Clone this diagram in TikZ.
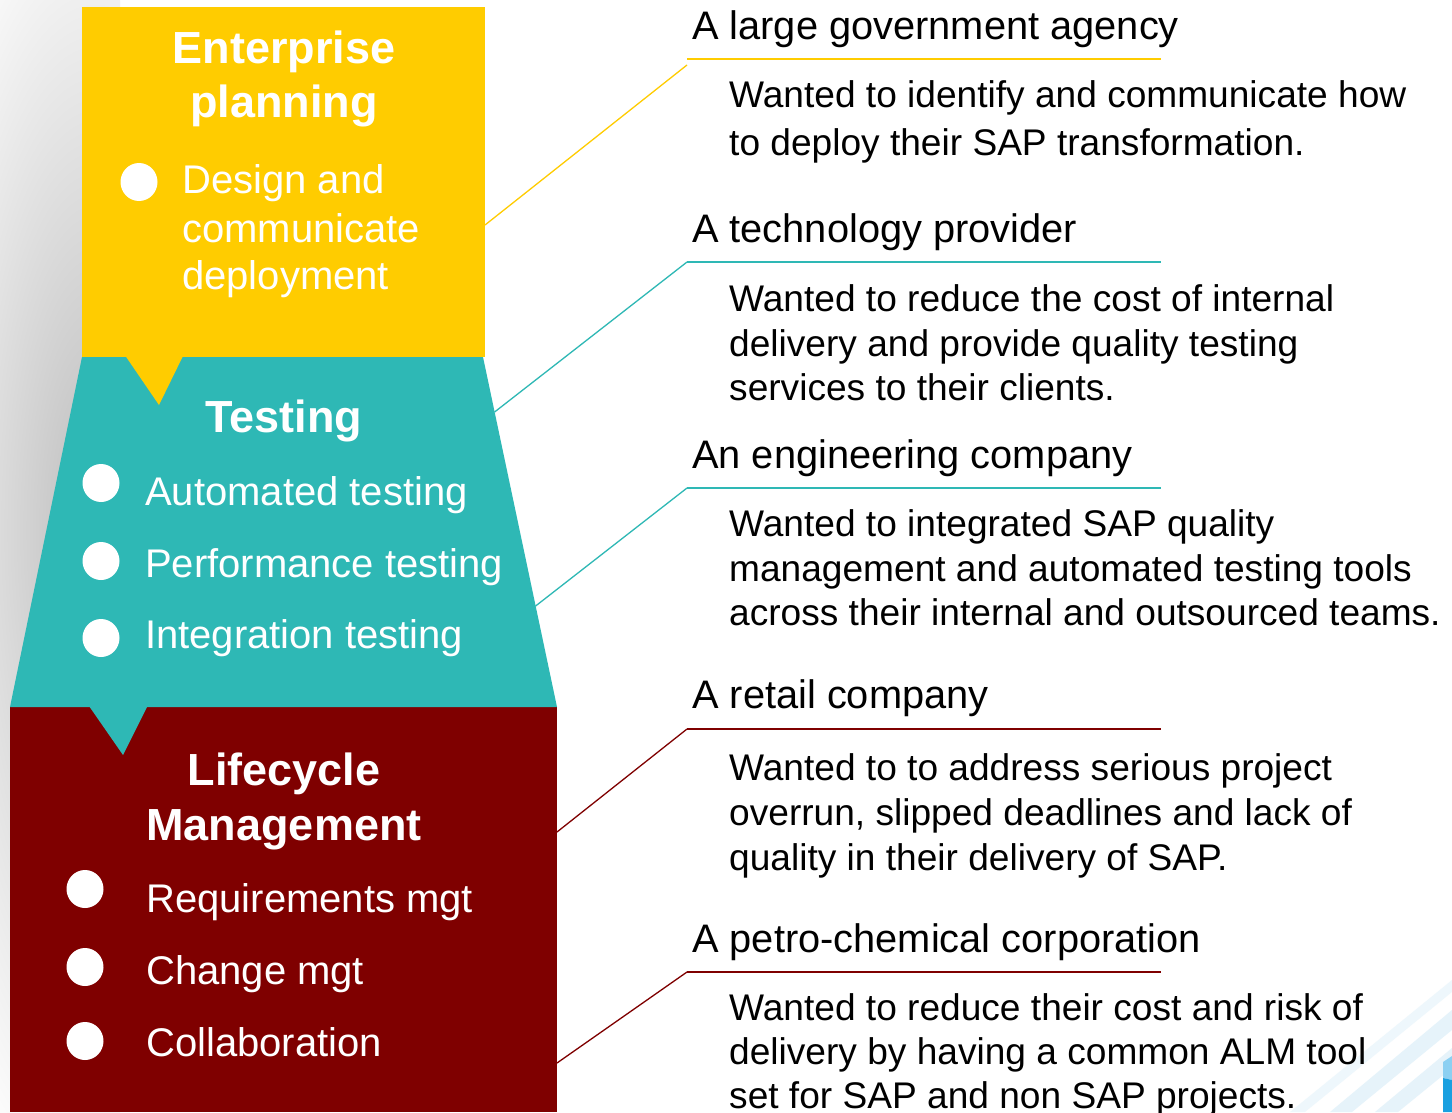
\documentclass[tikz,border=0pt]{standalone}
\usepackage{fontspec}
\setmainfont{Liberation Sans}
\definecolor{epyellow}{HTML}{FFCC00}
\definecolor{tsteal}{HTML}{2EB8B5}
\definecolor{lcmaroon}{HTML}{7F0000}
\definecolor{stripeblue}{HTML}{D6ECF8}
\definecolor{logoblue}{HTML}{1AA0E0}
\definecolor{logolight}{HTML}{8CD0F2}
\tikzset{
  heading/.style={anchor=base west, inner sep=0pt, text=black, font=\fontsize{39.8}{40}\selectfont},
  bodyline/.style={anchor=base west, inner sep=0pt, text=black, font=\fontsize{37.1}{38}\selectfont},
  boxtitle/.style={anchor=base, inner sep=0pt, text=white, font=\fontsize{45}{46}\selectfont\bfseries},
  boxitem/.style={anchor=base west, inner sep=0pt, text=white, font=\fontsize{40}{41}\selectfont},
  bulletdot/.style={fill=white, draw=none},
  underline/.style={line width=2pt},
  leader/.style={line width=1.3pt}
}
\begin{document}
\begin{tikzpicture}[x=1pt,y=-1pt]
\useasboundingbox (0,0) rectangle (1452,1112);
\fill[white] (0,0) rectangle (1452,1112);
% soft shadow on the left
\begin{scope}
\clip (0,0) rectangle (120,1112);
\shade[inner color=black!26, outer color=white] (95,530) ellipse [x radius=210, y radius=700];
\end{scope}
% bottom-right decoration
\begin{scope}
\clip (1200,950) rectangle (1452,1112);
\fill[stripeblue, opacity=0.6] (1330,1112) -- (1452,1010) -- (1452,1030) -- (1352,1112) -- cycle;
\fill[stripeblue, opacity=0.6] (1375,1112) -- (1452,1048) -- (1452,1068) -- (1398,1112) -- cycle;
\fill[stripeblue, opacity=0.4] (1290,1112) -- (1452,980) -- (1452,992) -- (1305,1112) -- cycle;
\fill[logolight] (1443,1062) -- (1452,1056) -- (1452,1080) -- (1443,1078) -- cycle;
\fill[logoblue] (1443,1078) -- (1452,1080) -- (1452,1112) -- (1443,1112) -- cycle;
\end{scope}
% shapes
\fill[lcmaroon] (10,707) rectangle (557,1112);
\fill[tsteal] (82,357) -- (483,357) -- (557,707) -- (10,707) -- cycle;
\fill[tsteal] (89,706) -- (147.5,706) -- (123,755) -- cycle;
\fill[epyellow] (82,7) rectangle (485,357);
\fill[epyellow] (125.5,356) -- (183,356) -- (159,405) -- cycle;
% connector end points on the shapes
\coordinate (s1) at (485,225);
\coordinate (s2) at (494.6,412);
\coordinate (s3) at (535.6,606);
\coordinate (s4) at (557,832);
\coordinate (s5) at (557,1063);
% left texts
\node[boxtitle] (ep1) at (284,63) {Enterprise};
\node[boxtitle] (ep2) at (284,117) {planning};
\fill[bulletdot] (139,182) ellipse [x radius=18.5, y radius=19];
\node[boxitem] (ep3) at (182,193) {Design and};
\node[boxitem] (ep4) at (182,242) {communicate};
\node[boxitem] (ep5) at (182,289) {deployment};
\node[boxtitle] (ts1) at (284,432) {Testing};
\fill[bulletdot] (101,483) ellipse [x radius=18.5, y radius=19];
\fill[bulletdot] (101,561) ellipse [x radius=18.5, y radius=19];
\fill[bulletdot] (101,638) ellipse [x radius=18.5, y radius=19];
\node[boxitem] (ts2) at (145,505) {Automated testing};
\node[boxitem] (ts3) at (145,577) {Performance testing};
\node[boxitem] (ts4) at (145,648) {Integration testing};
\node[boxtitle] (lc1) at (284,785) {Lifecycle};
\node[boxtitle] (lc2) at (284,840) {Management};
\fill[bulletdot] (85,889) ellipse [x radius=18.5, y radius=19];
\fill[bulletdot] (85,967) ellipse [x radius=18.5, y radius=19];
\fill[bulletdot] (85,1041) ellipse [x radius=18.5, y radius=19];
\node[boxitem] (lc3) at (146,912) {Requirements mgt};
\node[boxitem] (lc4) at (146,984) {Change mgt};
\node[boxitem] (lc5) at (146,1056) {Collaboration};
% right side: case 1
\node[heading] (h1) at (692,39) {A large government agency};
\coordinate (u1a) at (687,59);
\coordinate (u1b) at (1161,59);
\coordinate (l1a) at (687,65);
\draw[underline, epyellow] (u1a) -- (u1b);
\draw[leader, epyellow] (l1a) -- (s1);
\node[bodyline] (b11) at (729,107) {Wanted to identify and communicate how};
\node[bodyline] (b12) at (729,155) {to deploy their SAP transformation.};
% case 2
\node[heading] (h2) at (692,242) {A technology provider};
\coordinate (u2a) at (687,262);
\coordinate (u2b) at (1161,262);
\draw[underline, tsteal] (u2a) -- (u2b);
\draw[leader, tsteal] (u2a) -- (s2);
\node[bodyline] (b21) at (729,311) {Wanted to reduce the cost of internal};
\node[bodyline] (b22) at (729,356) {delivery and provide quality testing};
\node[bodyline] (b23) at (729,400) {services to their clients.};
% case 3
\node[heading] (h3) at (692,468) {An engineering company};
\coordinate (u3a) at (687,488);
\coordinate (u3b) at (1161,488);
\draw[underline, tsteal] (u3a) -- (u3b);
\draw[leader, tsteal] (u3a) -- (s3);
\node[bodyline] (b31) at (729,536) {Wanted to integrated SAP quality};
\node[bodyline] (b32) at (729,581) {management and automated testing tools};
\node[bodyline] (b33) at (729,625) {across their internal and outsourced teams.};
% case 4
\node[heading] (h4) at (692,708) {A retail company};
\coordinate (u4a) at (687,729);
\coordinate (u4b) at (1161,729);
\draw[underline, lcmaroon] (u4a) -- (u4b);
\draw[leader, lcmaroon] (u4a) -- (s4);
\node[bodyline] (b41) at (729,780) {Wanted to to address serious project};
\node[bodyline] (b42) at (729,825) {overrun, slipped deadlines and lack of};
\node[bodyline] (b43) at (729,870) {quality in their delivery of SAP.};
% case 5
\node[heading] (h5) at (692,952) {A petro-chemical corporation};
\coordinate (u5a) at (687,972);
\coordinate (u5b) at (1161,972);
\draw[underline, lcmaroon] (u5a) -- (u5b);
\draw[leader, lcmaroon] (u5a) -- (s5);
\node[bodyline] (b51) at (729,1020) {Wanted to reduce their cost and risk of};
\node[bodyline] (b52) at (729,1064) {delivery by having a common ALM tool};
\node[bodyline] (b53) at (729,1108) {set for SAP and non SAP projects.};
\end{tikzpicture}
\end{document}
